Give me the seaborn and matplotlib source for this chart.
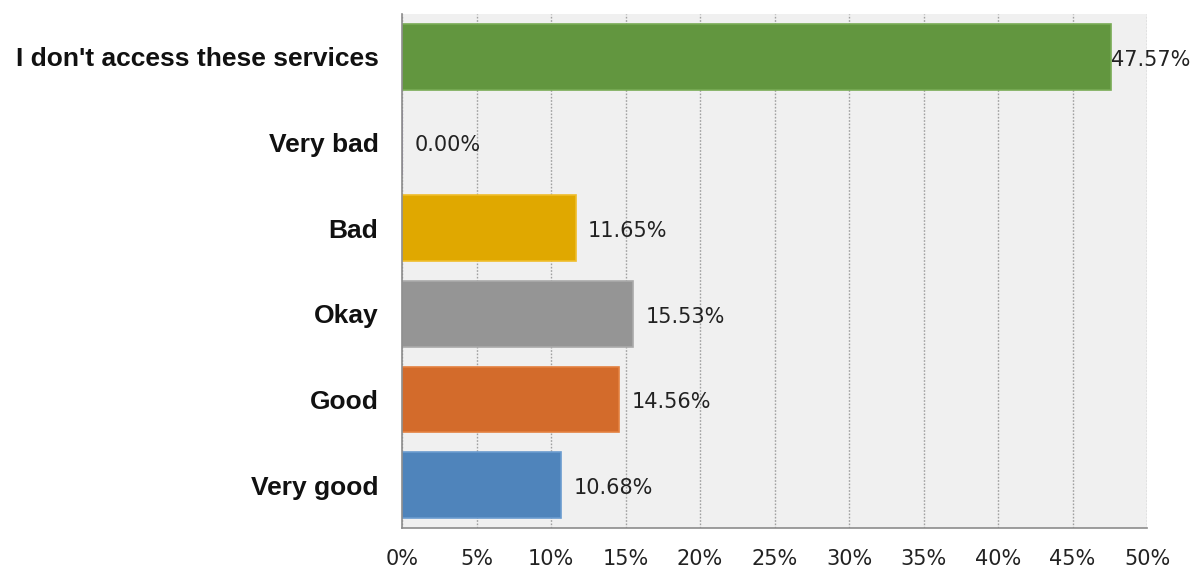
import matplotlib
matplotlib.use("Agg")
import matplotlib.pyplot as plt
import matplotlib.ticker as mticker
import seaborn as sns
import pandas as pd

categories = ["I don't access these services", "Very bad", "Bad", "Okay", "Good", "Very good"]
percentages = [47.57, 0.00, 11.65, 15.53, 14.56, 10.68]
bar_colors = ["#62963f", "#8064a2", "#e0a800", "#959595", "#d36b2b", "#4f84bb"]
edge_colors = ["#78ab55", "#9680b5", "#efbd2a", "#aaaaaa", "#e3803f", "#6a9bcf"]
x_ticks = [0, 5, 10, 15, 20, 25, 30, 35, 40, 45, 50]

df = pd.DataFrame({"category": categories, "pct": percentages})

sns.set_style("white")
plt.rcParams["font.family"] = ["DejaVu Sans"]

fig = plt.figure(figsize=(11.94, 5.74), dpi=100)
ax = fig.add_axes([402 / 1194, 1 - 528 / 574, (1147 - 402) / 1194, (528 - 14) / 574])
ax.set_facecolor("#f0f0f0")

sns.barplot(data=df, y="category", x="pct", hue="category", palette=bar_colors,
            orient="h", width=0.77, legend=False, ax=ax, saturation=1)

for patch, ec in zip(ax.patches, edge_colors):
    patch.set_edgecolor(ec)
    patch.set_linewidth(1.2)

ax.set_xlim(0, 50)
ax.set_ylim(len(categories) - 0.5, -0.5)
ax.set_xticks(x_ticks)
ax.xaxis.set_major_formatter(mticker.FuncFormatter(lambda v, _: f"{v:.0f}%"))
ax.grid(axis="x", color="#a0a0a0", linestyle=(0, (1.2, 1.2)), linewidth=1.0)
ax.set_axisbelow(True)

for side in ("top", "right"):
    ax.spines[side].set_visible(False)
for side in ("left", "bottom"):
    ax.spines[side].set_color("#8c8c8c")
    ax.spines[side].set_linewidth(1.2)

ax.set_yticks([i - 0.5 for i in range(len(categories) + 1)], minor=True)
ax.tick_params(axis="y", which="major", length=0, pad=17, labelsize=19)
ax.tick_params(axis="y", which="minor", length=7, color="#8c8c8c", width=1.2, direction="out")
ax.tick_params(axis="x", which="major", length=7, color="#8c8c8c", width=1.2,
               direction="out", labelsize=15, labelcolor="#222222", pad=8)
for lbl in ax.get_yticklabels():
    lbl.set_fontfamily("Liberation Sans")
    lbl.set_fontweight("bold")
    lbl.set_color("#111111")

ax.set_xlabel("")
ax.set_ylabel("")

for i, v in enumerate(percentages):
    offset = 0 if v > 45 else 9
    ax.annotate(f"{v:.2f}%", xy=(v, i), xytext=(offset, -2), textcoords="offset points",
                ha="left", va="center", fontsize=15, color="#222222")

fig.savefig("out.png", dpi=100)
